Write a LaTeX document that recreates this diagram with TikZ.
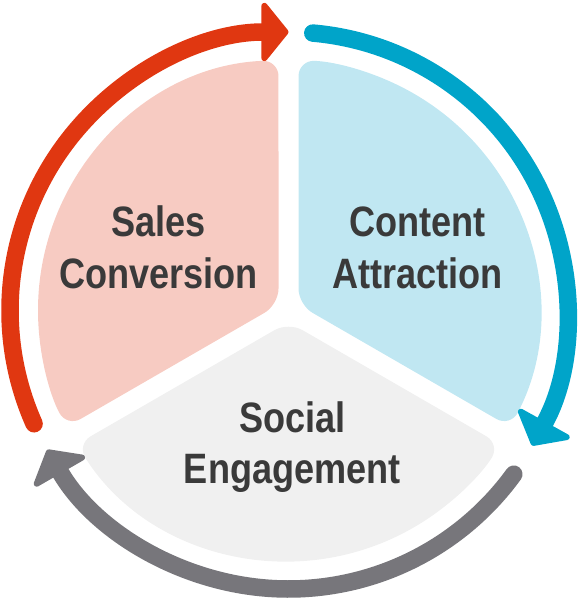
\documentclass[tikz,border=0pt]{standalone}
\usepackage{fontspec}
\newfontfamily\lblfont{Liberation Sans}[FakeStretch=0.85]
\usepackage{tikz}
\usetikzlibrary{arrows.meta}

\definecolor{redring}{RGB}{224,55,17}
\definecolor{bluering}{RGB}{0,164,201}
\definecolor{grayring}{RGB}{119,118,123}
\definecolor{pinkfill}{RGB}{247,203,194}
\definecolor{bluefill}{RGB}{192,231,242}
\definecolor{grayfill}{RGB}{240,240,240}
\definecolor{lbltext}{RGB}{58,58,58}

\begin{document}
\begin{tikzpicture}[x=1pt,y=1pt,
  sector/.style={fill=#1,rounded corners=16pt},
  ring/.style={draw=#1,line width=17.5pt,line cap=round,
    -{Triangle[width=68pt,length=28pt,line width=6pt,round]}},
  lbl/.style={anchor=base,inner sep=0pt,text=lbltext,
    font=\lblfont\bfseries\fontsize{42.5pt}{51.5pt}\selectfont}]
\useasboundingbox (-288.5,-290.5) rectangle (288.5,310.5);
% three sectors of the wheel
\foreach \b/\c in {150/pinkfill,30/bluefill,270/grayfill} {
   \path[sector=\c] (\b:11.547) -- (\b-57.71:250.5)
      arc[start angle=\b-57.71,end angle=\b+57.71,radius=250.5] -- cycle;
}
% cycle arrows
\foreach \s/\c in {204/redring,85/bluering,-36/grayring} {
   \draw[ring=\c] (\s:278.5) arc[start angle=\s,end angle=\s-114,radius=278.5];
}
\node[lbl] (sales) at (-130,73.5) {Sales};
\node[lbl] (conversion) at (-130,22) {Conversion};
\node[lbl] (content) at (129,73.5) {Content};
\node[lbl] (attraction) at (129,22) {Attraction};
\node[lbl] (social) at (3.8,-121.5) {Social};
\node[lbl] (engagement) at (3.8,-172.5) {Engagement};
\end{tikzpicture}
\end{document}
